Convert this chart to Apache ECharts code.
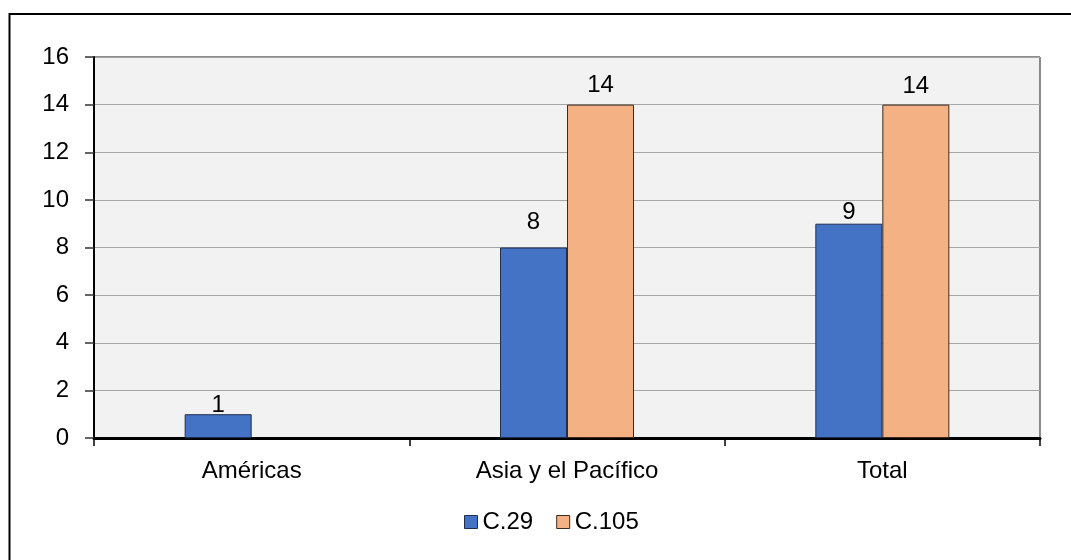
<!DOCTYPE html>
<html>
<head>
<meta charset="utf-8">
<script src="https://cdn.jsdelivr.net/npm/echarts@6/dist/echarts.min.js"></script>
<style>
html,body{margin:0;padding:0;background:#fff;}
#c{width:1071px;height:560px;}
</style>
</head>
<body>
<div id="c"></div>
<script>
var categories = ['Américas', 'Asia y el Pacífico', 'Total'];
var seriesNames = ['C.29', 'C.105'];
var c29 = [1, 8, 9];
var c105 = [null, 14, 14];
var yTicks = [0, 2, 4, 6, 8, 10, 12, 14, 16];

var FONT = '"Liberation Sans", Arial, sans-serif';
var FS = 24;
var labelShift = { 'C.29': [3, -13, 1], 'C.105': [0, -7, -6] };

function makeData(name, vals) {
  return vals.map(function (v, i) {
    return { value: v, label: { offset: [0, labelShift[name][i]] } };
  });
}

var chart = echarts.init(document.getElementById('c'), null, { renderer: 'canvas' });
chart.setOption({
  backgroundColor: '#ffffff',
  animation: false,
  textStyle: { fontFamily: FONT },
  graphic: [{
    type: 'rect', z: 100, silent: true,
    shape: { x: 9.5, y: 14, width: 1100, height: 600 },
    style: { fill: 'none', stroke: '#000', lineWidth: 2 }
  }],
  grid: {
    left: 94, top: 57, right: 31, bottom: 122,
    show: true, backgroundColor: '#F2F2F2', borderColor: '#1a1a1a', borderWidth: 1
  },
  legend: {
    bottom: 21, left: 459,
    icon: 'rect', itemWidth: 13, itemHeight: 13, itemGap: 23,
    itemStyle: { borderWidth: 1 },
    textStyle: { fontSize: FS, color: '#000', fontFamily: FONT, padding: [0, 0, 0, 0] },
    data: seriesNames
  },
  xAxis: {
    type: 'category', data: categories,
    axisLine: { show: true, lineStyle: { color: '#000', width: 3 } },
    axisTick: { show: true, length: 8, lineStyle: { color: '#000', width: 1.5 } },
    axisLabel: { fontSize: FS, color: '#000', margin: 21, fontFamily: FONT },
    splitLine: { show: false }
  },
  yAxis: {
    type: 'value', min: yTicks[0], max: yTicks[yTicks.length - 1], interval: 2,
    axisLine: { show: true, lineStyle: { color: '#000', width: 2 } },
    axisTick: { show: true, length: 9, lineStyle: { color: '#333', width: 1.5 } },
    axisLabel: { fontSize: FS, color: '#000', margin: 25, fontFamily: FONT },
    splitLine: { show: true, lineStyle: { color: '#A6A6A6', width: 1.2 } }
  },
  series: [
    {
      name: seriesNames[0], type: 'bar', barWidth: 67, barGap: '0%',
      data: makeData('C.29', c29),
      itemStyle: { color: '#4472C4', borderColor: '#1F2F4F', borderWidth: 1 },
      label: { show: true, position: 'top', distance: 0, fontSize: FS, color: '#000', fontFamily: FONT }
    },
    {
      name: seriesNames[1], type: 'bar', barWidth: 67, barGap: '0%',
      data: makeData('C.105', c105),
      itemStyle: { color: '#F4B183', borderColor: '#3D2A1C', borderWidth: 1 },
      label: { show: true, position: 'top', distance: 0, fontSize: FS, color: '#000', fontFamily: FONT }
    }
  ]
});
</script>
</body>
</html>
